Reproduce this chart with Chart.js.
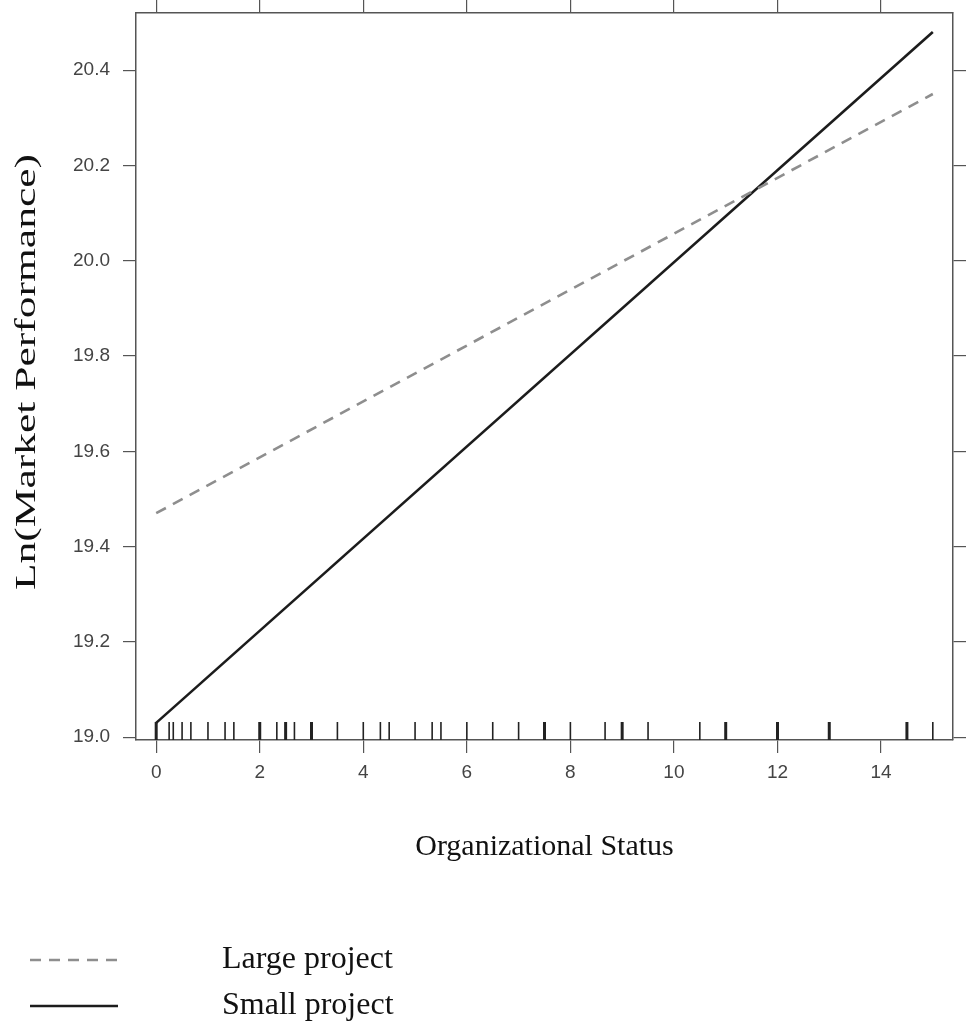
<!DOCTYPE html>
<html>
<head>
<meta charset="utf-8">
<title>Organizational Status vs Ln(Market Performance)</title>
<script src="https://cdn.jsdelivr.net/npm/chart.js@4.4.1/dist/chart.umd.min.js"></script>
<style>
  html, body { margin:0; padding:0; background:#fff; }
  #wrap { width:974px; height:1034px; }
</style>
</head>
<body>
<div id="wrap"><canvas id="effectChart" width="974" height="1034"></canvas></div>
<script>
// values
const seriesNames = ['Large project', 'Small project'];
const lineX = [0, 15];
const largeY = [19.47, 20.35];
const smallY = [19.03, 20.48];

const xTicks = [0, 2, 4, 6, 8, 10, 12, 14];
const yTicks = [19.0, 19.2, 19.4, 19.6, 19.8, 20.0, 20.2, 20.4];

// rug of observed Organizational Status values (count = overlapping obs)
const rugValues = [0, 0.25, 0.33, 0.5, 0.67, 1, 1.33, 1.5, 2, 2.33, 2.5, 2.67, 3, 3.5, 4, 4.33, 4.5, 5, 5.33, 5.5,
  6, 6.5, 7, 7.5, 8, 8.67, 9, 9.5, 10.5, 11, 12, 13, 14.5, 15];
const rugCount = [2, 1, 1, 1, 1, 1, 1, 1, 2, 1, 2, 1, 2, 1, 1, 1, 1, 1, 1, 1,
  1, 1, 1, 2, 1, 1, 2, 1, 1, 2, 2, 2, 2, 1];

const xRange = [-0.39, 15.39];
const yRange = [18.994, 20.52];

const axisColor = '#555';
const tickFont = {family:'"Liberation Sans", Arial, sans-serif', size:19};
const serif = '"Liberation Serif", "Times New Roman", serif';

function points(xs, ys){
  return xs.map((x, i) => ({x, y: ys[i]}));
}

function fixTicks(values){
  return scale => { scale.ticks = values.map(v => ({value: v})); };
}

// fixed box sizes so the plot frame lands where the original one is
function fixSize(w, h){
  return s => {
    if(w !== null) s.width = w;
    if(h !== null) s.height = h;
    s.paddingTop = 0; s.paddingBottom = 0; s.paddingLeft = 0; s.paddingRight = 0;
  };
}

const rugPlugin = {
  id: 'rug',
  afterDatasetsDraw(chart){
    const {ctx, chartArea} = chart;
    const xs = chart.scales.x;
    ctx.save();
    ctx.strokeStyle = '#222';
    rugValues.forEach((v, i) => {
      const px = xs.getPixelForValue(v);
      ctx.lineWidth = rugCount[i] > 1 ? 3 : 1.6;
      ctx.beginPath();
      ctx.moveTo(px, chartArea.bottom);
      ctx.lineTo(px, chartArea.bottom - 18);
      ctx.stroke();
    });
    ctx.restore();
  }
};

const yTitlePlugin = {
  id: 'yTitle',
  afterDraw(chart){
    const {ctx} = chart;
    ctx.save();
    ctx.translate(27, 372);
    ctx.rotate(-Math.PI / 2);
    ctx.scale(1.45, 1);
    ctx.font = '30px ' + serif;
    ctx.fillStyle = '#111';
    ctx.textAlign = 'center';
    ctx.textBaseline = 'middle';
    ctx.fillText('Ln(Market Performance)', 0, 0);
    ctx.restore();
  }
};

const legendPlugin = {
  id: 'sideLegend',
  afterDraw(chart){
    const {ctx} = chart;
    const rows = [960, 1006];
    ctx.save();
    chart.data.datasets.forEach((ds, i) => {
      const y = rows[i];
      ctx.strokeStyle = ds.borderColor;
      ctx.lineWidth = ds.borderWidth;
      ctx.setLineDash(ds.borderDash || []);
      ctx.beginPath();
      ctx.moveTo(30, y);
      ctx.lineTo(118, y);
      ctx.stroke();
      ctx.setLineDash([]);
      ctx.font = '32px ' + serif;
      ctx.fillStyle = '#111';
      ctx.textBaseline = 'middle';
      ctx.fillText(ds.label, 222, y);
    });
    ctx.restore();
  }
};

const ctx = document.getElementById('effectChart').getContext('2d');
new Chart(ctx, {
  type: 'line',
  data: {
    datasets: [
      {label: seriesNames[0], data: points(lineX, largeY), borderColor:'#8e8e8e', borderWidth:2.6, borderDash:[11, 8], pointRadius:0, fill:false},
      {label: seriesNames[1], data: points(lineX, smallY), borderColor:'#1c1c1c', borderWidth:2.6, pointRadius:0, fill:false}
    ]
  },
  options: {
    responsive: false,
    animation: false,
    layout: {padding: {left:0, right:0, top:0, bottom:164}},
    plugins: {legend:{display:false}, tooltip:{enabled:false}},
    scales: {
      x: {
        type:'linear', position:'bottom', min:xRange[0], max:xRange[1],
        afterBuildTicks: fixTicks(xTicks),
        afterFit: fixSize(null, 130),
        grid: {drawOnChartArea:false, tickLength:13, color:axisColor, lineWidth:1.2},
        border: {color:axisColor, width:1.5},
        ticks: {font:tickFont, color:'#444', padding:8, maxRotation:0},
        title: {display:true, text:'Organizational Status', color:'#111', font:{family:serif, size:30}, padding:{top:0, bottom:5}}
      },
      x2: {
        type:'linear', axis:'x', position:'top', min:xRange[0], max:xRange[1],
        afterBuildTicks: fixTicks(xTicks),
        afterFit: fixSize(null, 13),
        grid: {drawOnChartArea:false, tickLength:13, color:axisColor, lineWidth:1.2},
        border: {color:axisColor, width:1.5},
        ticks: {display:false}
      },
      y: {
        type:'linear', position:'left', min:yRange[0], max:yRange[1],
        afterBuildTicks: fixTicks(yTicks),
        afterFit: fixSize(136, null),
        grid: {drawOnChartArea:false, tickLength:13, color:axisColor, lineWidth:1.2},
        border: {color:axisColor, width:1.5},
        ticks: {font:tickFont, color:'#444', padding:13, callback: v => v.toFixed(1)}
      },
      y2: {
        type:'linear', axis:'y', position:'right', min:yRange[0], max:yRange[1],
        afterBuildTicks: fixTicks(yTicks),
        afterFit: fixSize(21, null),
        grid: {drawOnChartArea:false, tickLength:13, color:axisColor, lineWidth:1.2},
        border: {color:axisColor, width:1.5},
        ticks: {display:false}
      }
    }
  },
  plugins: [rugPlugin, yTitlePlugin, legendPlugin]
});
</script>
</body>
</html>
